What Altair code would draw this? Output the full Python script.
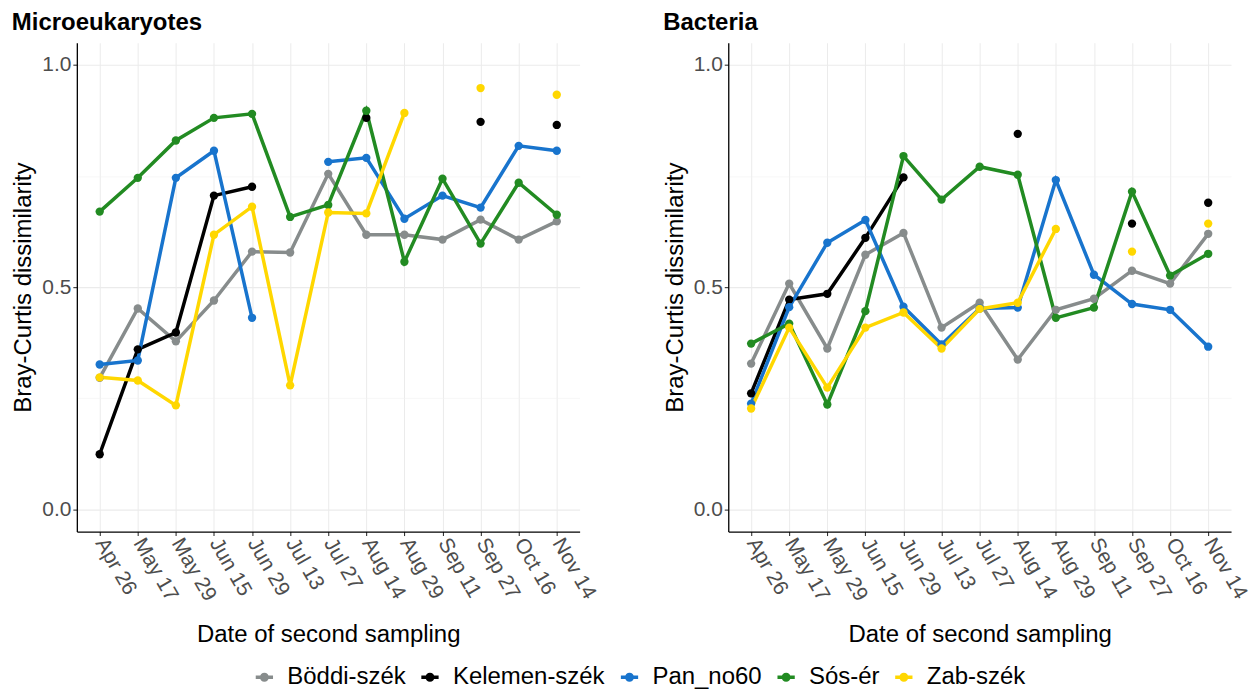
import altair as alt
import pandas as pd

dates = ["Apr 26", "May 17", "May 29", "Jun 15", "Jun 29", "Jul 13", "Jul 27",
         "Aug 14", "Aug 29", "Sep 11", "Sep 27", "Oct 16", "Nov 14"]
sites = ["Böddi-szék", "Kelemen-szék", "Pan_no60", "Sós-ér", "Zab-szék"]
site_colors = ["#878c8c", "#000000", "#1874CD", "#228B22", "#FFD700"]

# Microeukaryotes
boddi_m = [0.296, 0.452, 0.378, 0.470, 0.580, 0.578, 0.755, 0.618, 0.618, 0.607, 0.652, 0.607, 0.648]
kelemen_m = [0.124, 0.360, 0.398, 0.706, 0.726, None, None, 0.881, None, None, 0.872, None, 0.865]
pan_m = [0.326, 0.335, 0.746, 0.807, 0.431, None, 0.782, 0.791, 0.654, 0.706, 0.679, 0.818, 0.807]
sos_m = [0.670, 0.746, 0.830, 0.881, 0.890, 0.658, 0.685, 0.897, 0.557, 0.744, 0.598, 0.735, 0.663]
zab_m = [0.297, 0.290, 0.234, 0.618, 0.681, 0.279, 0.668, 0.666, 0.892, None, 0.948, None, 0.933]

# Bacteria
boddi_b = [0.328, 0.508, 0.362, 0.573, 0.622, 0.409, 0.465, 0.337, 0.449, 0.474, 0.537, 0.508, 0.620]
kelemen_b = [0.261, 0.472, 0.485, 0.611, 0.747, None, None, 0.845, None, None, 0.643, None, 0.690]
pan_b = [0.238, 0.455, 0.600, 0.651, 0.456, 0.371, 0.452, 0.454, 0.741, 0.528, 0.462, 0.449, 0.366]
sos_b = [0.373, 0.418, 0.236, 0.446, 0.795, 0.697, 0.771, 0.753, 0.431, 0.454, 0.715, 0.526, 0.575]
zab_b = [0.227, 0.409, 0.274, 0.409, 0.443, 0.362, 0.451, 0.465, 0.631, None, 0.580, None, 0.643]

micro = dict(zip(sites, [boddi_m, kelemen_m, pan_m, sos_m, zab_m]))
bact = dict(zip(sites, [boddi_b, kelemen_b, pan_b, sos_b, zab_b]))


def to_frame(series):
    rows = []
    for site, vals in series.items():
        seg = 0
        prev_missing = True
        for d, v in zip(dates, vals):
            if v is None:
                prev_missing = True
                continue
            if prev_missing:
                seg += 1
            prev_missing = False
            rows.append({"site": site, "date": d, "value": v, "seg": f"{site}-{seg}"})
    return pd.DataFrame(rows)


MINOR = "datum.value == 0.25 || datum.value == 0.75"
legend_path = ("M-1,-0.2H1V0.2H-1Z "
               "M-0.52,0A0.52,0.52,0,1,1,0.52,0A0.52,0.52,0,1,1,-0.52,0Z")

shared_legend = alt.Legend(title=None, orient="none", direction="horizontal",
                           legendX=176, legendY=624, padding=0,
                           symbolType=legend_path, symbolSize=300,
                           symbolStrokeWidth=0, symbolOpacity=1,
                           labelFontSize=24, labelColor="#000000",
                           labelOffset=11, columnPadding=12, labelLimit=400)


def panel(series, title):
    df = to_frame(series)
    x = alt.X("date:N", sort=dates,
              scale=alt.Scale(type="point", domain=dates, padding=0.6),
              axis=alt.Axis(title="Date of second sampling", labelAngle=60,
                            labelAlign="left", labelBaseline="middle",
                            labelPadding=4, tickSize=4, grid=True,
                            titlePadding=19))
    y = alt.Y("value:Q",
              scale=alt.Scale(domain=[-0.05, 1.05], nice=False, zero=False),
              axis=alt.Axis(title="Bray-Curtis dissimilarity",
                            values=[0, 0.25, 0.5, 0.75, 1.0],
                            labelExpr=f"({MINOR}) ? '' : format(datum.value, '.1f')",
                            tickOpacity={"condition": {"test": MINOR, "value": 0}, "value": 1},
                            gridColor={"condition": {"test": MINOR, "value": "#f2f2f2"}, "value": "#ebebeb"},
                            gridWidth={"condition": {"test": MINOR, "value": 0.6}, "value": 1.1},
                            tickSize=4, grid=True, titlePadding=6))
    color_scale = alt.Scale(domain=sites, range=site_colors)
    lines = alt.Chart(df).mark_line(strokeWidth=3.5).encode(
        x=x, y=y,
        color=alt.Color("site:N", scale=color_scale, legend=shared_legend),
        detail="seg:N",
    )
    points = alt.Chart(df).mark_circle(size=70, opacity=1).encode(
        x=x, y=y,
        color=alt.Color("site:N", scale=color_scale, legend=shared_legend),
    )
    return alt.layer(lines, points).properties(
        width=504, height=490,
        title=alt.Title(title, anchor="start", fontSize=24, fontWeight="bold",
                        color="#000000", offset=8),
    )


left = panel(micro, "Microeukaryotes")
right = panel(bact, "Bacteria")

chart = alt.hconcat(left, right, spacing=63).resolve_scale(
    color="shared").resolve_legend(color="shared").properties(
    padding={"left": 3, "top": 2, "right": 0, "bottom": 0}
).configure(
    font="Liberation Sans"
).configure_view(
    stroke=None
).configure_axis(
    labelFont="Liberation Sans", labelFontSize=21, labelColor="#4d4d4d",
    titleFont="Liberation Sans", titleFontSize=24, titleFontWeight="normal",
    titleColor="#000000", tickColor="#333333", domainColor="#000000",
    domainWidth=1.3, tickWidth=1.1, gridColor="#ebebeb"
).configure_title(
    font="Liberation Sans"
).configure_legend(
    labelFont="Liberation Sans"
)

chart.save("out.html", embed_options={"renderer": "svg", "actions": False})
